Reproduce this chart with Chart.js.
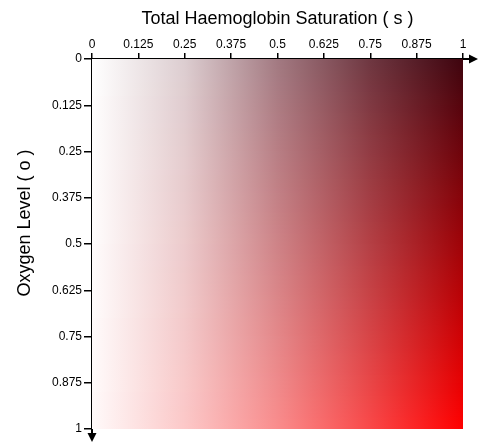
<!DOCTYPE html>
<html>
<head>
<meta charset="utf-8">
<script src="https://cdn.jsdelivr.net/npm/chart.js@4/dist/chart.umd.min.js"></script>
<style>
  html, body { margin: 0; padding: 0; background: #ffffff; }
  canvas { display: block; }
</style>
</head>
<body>
<canvas id="c" width="479" height="448"></canvas>
<script>
// Axis tick values (both axes run 0 → 1 in steps of 0.125)
const saturationTicks = [0, 0.125, 0.25, 0.375, 0.5, 0.625, 0.75, 0.875, 1];
const oxygenTicks = [0, 0.125, 0.25, 0.375, 0.5, 0.625, 0.75, 0.875, 1];

const sampleSaturation = [0, 0.25, 0.5, 0.75, 1];
// Row at oxygen level 0 (top edge)
const colorsAtOxygen0 = [[255,255,255],[220,205,208],[162,122,130],[110,55,65],[62,4,14]];
// Row at oxygen level 1 (bottom edge)
const colorsAtOxygen1 = [[255,250,250],[252,200,200],[250,140,140],[250,72,72],[255,0,0]];

const xTitle = 'Total Haemoglobin Saturation ( s )';
const yTitle = 'Oxygen Level ( o )';

const FONT = '"Liberation Sans", Arial, sans-serif';

function mix(a, b, t) {
  return [0,1,2].map(i => Math.round(a[i] + (b[i] - a[i]) * t));
}

const gradientPlugin = {
  id: 'gradientField',
  beforeDatasetsDraw(chart) {
    const ctx = chart.ctx;
    const xs = chart.scales.x, ys = chart.scales.y;
    const x0 = xs.getPixelForValue(0), x1 = xs.getPixelForValue(1);
    const yTop = ys.getPixelForValue(0), yBot = ys.getPixelForValue(1);
    ctx.save();
    for (let py = Math.floor(yTop); py < Math.ceil(yBot); py++) {
      const o = Math.min(1, Math.max(0, ys.getValueForPixel(py + 0.5)));
      const g = ctx.createLinearGradient(x0, 0, x1, 0);
      sampleSaturation.forEach((s, i) => {
        const c = mix(colorsAtOxygen0[i], colorsAtOxygen1[i], o);
        g.addColorStop(s, `rgb(${c[0]},${c[1]},${c[2]})`);
      });
      ctx.fillStyle = g;
      ctx.fillRect(x0, py, x1 - x0, 1);
    }
    ctx.restore();
  }
};

const arrowPlugin = {
  id: 'axisArrows',
  afterDraw(chart) {
    const ctx = chart.ctx;
    const a = chart.chartArea;
    ctx.save();
    ctx.strokeStyle = '#000';
    ctx.fillStyle = '#000';
    ctx.lineWidth = 2;
    ctx.beginPath();
    ctx.moveTo(a.right, a.top);
    ctx.lineTo(a.right + 8, a.top);
    ctx.stroke();
    ctx.beginPath();
    ctx.moveTo(a.right + 15, a.top);
    ctx.lineTo(a.right + 6, a.top - 4.5);
    ctx.lineTo(a.right + 6, a.top + 4.5);
    ctx.closePath();
    ctx.fill();
    ctx.beginPath();
    ctx.moveTo(a.left, a.bottom);
    ctx.lineTo(a.left, a.bottom + 6);
    ctx.stroke();
    ctx.beginPath();
    ctx.moveTo(a.left, a.bottom + 13);
    ctx.lineTo(a.left - 4.5, a.bottom + 4);
    ctx.lineTo(a.left + 4.5, a.bottom + 4);
    ctx.closePath();
    ctx.fill();
    // y-axis title, placed as in the reference (slightly above the axis centre)
    ctx.translate(25, 223);
    ctx.rotate(-Math.PI / 2);
    ctx.font = '18px ' + FONT;
    ctx.textAlign = 'center';
    ctx.textBaseline = 'middle';
    ctx.fillText(yTitle, 0, 0);
    ctx.restore();
  }
};

new Chart(document.getElementById('c'), {
  type: 'scatter',
  data: { datasets: [{ data: [], pointRadius: 0 }] },
  options: {
    responsive: false,
    animation: false,
    layout: { padding: { top: 0, left: 0, right: 16, bottom: 19 } },
    plugins: { legend: { display: false }, tooltip: { enabled: false } },
    scales: {
      x: {
        type: 'linear',
        position: 'top',
        min: 0, max: 1,
        afterBuildTicks(scale) { scale.ticks = saturationTicks.map(v => ({ value: v })); },
        afterFit(scale) { scale.height = 59; },
        ticks: {
          color: '#000',
          font: { family: FONT, size: 12 },
          padding: 1,
          maxRotation: 0,
          autoSkip: false,
          callback: v => String(v)
        },
        grid: { drawOnChartArea: false, drawTicks: true, tickLength: 6, color: '#000', lineWidth: 1.5 },
        border: { display: true, color: '#000', width: 2 },
        title: { display: true, text: xTitle, color: '#000', font: { family: FONT, size: 18 }, padding: { top: 8, bottom: 0 } }
      },
      y: {
        type: 'linear',
        position: 'left',
        reverse: true,
        min: 0, max: 1,
        afterBuildTicks(scale) { scale.ticks = oxygenTicks.map(v => ({ value: v })); },
        afterFit(scale) { scale.width = 92; },
        ticks: {
          color: '#000',
          font: { family: FONT, size: 12 },
          padding: 2,
          autoSkip: false,
          callback: v => String(v)
        },
        grid: { drawOnChartArea: false, drawTicks: true, tickLength: 8, color: '#000', lineWidth: 1.5 },
        border: { display: true, color: '#000', width: 2 },
        title: { display: false, text: yTitle }
      }
    }
  },
  plugins: [gradientPlugin, arrowPlugin]
});
</script>
</body>
</html>
